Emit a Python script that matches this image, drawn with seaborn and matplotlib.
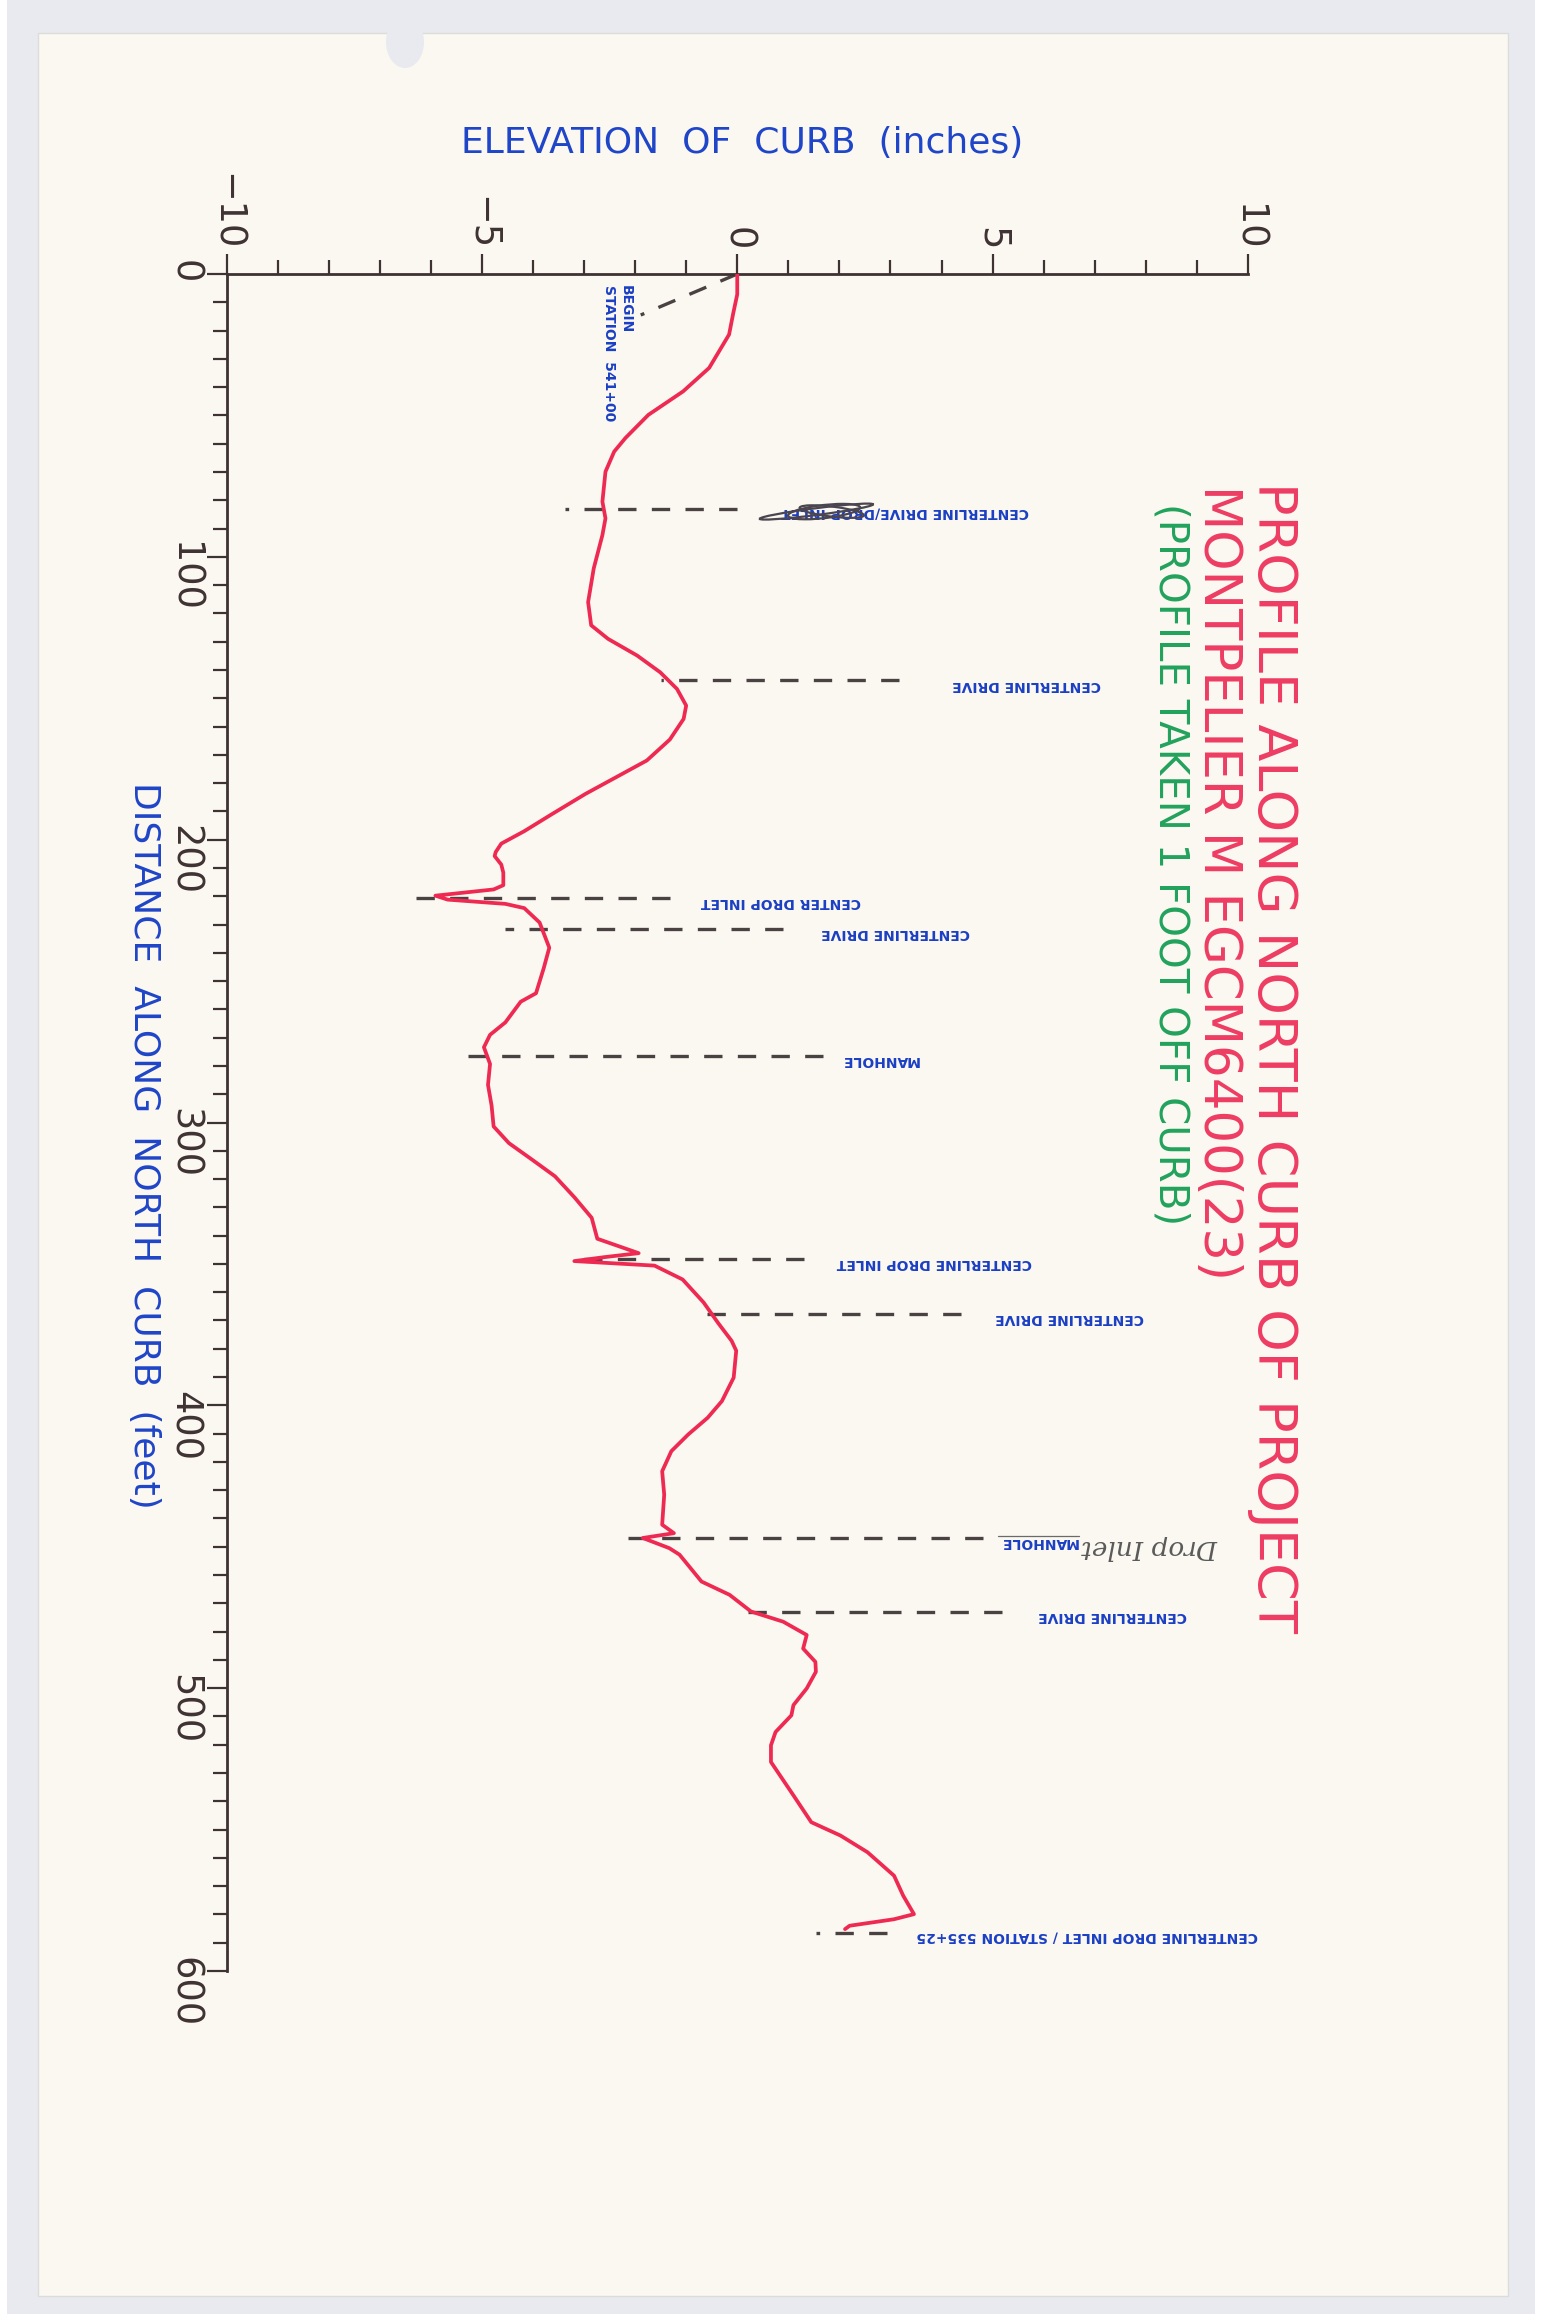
import numpy as np
import matplotlib
matplotlib.use('Agg')
import matplotlib.pyplot as plt
from matplotlib.patches import Rectangle, Ellipse
import seaborn as sns

sns.set_style('white')
plt.rcParams['font.family'] = ['DejaVu Sans']

# profile trace: distance along curb (feet) and elevation of curb (inches)
distance = [0, 7.2, 14, 21.4, 33.2, 41.5, 49.8, 58.0, 62.8, 69.9, 80.5, 86.4, 92.3,
            104.1, 116.0, 124.2, 129.0, 134.9, 140.8, 146.7, 152.6, 157.3, 164.6,
            172.0, 177.9, 183.8, 191.1, 197.0, 201.4, 204.4, 205.8, 208.8, 211.7,
            216.1, 217.6, 219.8, 221.2, 222.7, 224.2, 229.3, 238.2, 245.5, 254.3,
            257.3, 264.6, 269.0, 273.4, 279.3, 286.7, 294.0, 301.4, 307.3, 313.1,
            319.0, 326.4, 333.7, 341.1, 346.2, 347.6, 349.0, 350.6, 355.5, 363.6,
            371.0, 377.2, 380.7, 390.2, 398.5, 404.4, 410.3, 416.2, 423.3, 431.6,
            442.2, 445.2, 446.9, 450.5, 452.8, 462.3, 467.0, 472.9, 476.5, 481.2,
            486.0, 490.7, 494.2, 497.8, 500.1, 506.0, 509.6, 515.5, 520.2, 526.1,
            532.0, 537.9, 547.4, 552.1, 558.0, 566.3, 573.4, 579.9, 581.7, 584.0,
            585.2]
elevation = [0.0, 0.0, -0.08, -0.16, -0.55, -1.06, -1.74, -2.19, -2.41, -2.58, -2.64,
             -2.58, -2.64, -2.81, -2.92, -2.86, -2.53, -1.96, -1.51, -1.18, -1.00,
             -1.05, -1.32, -1.77, -2.37, -2.97, -3.64, -4.17, -4.62, -4.73, -4.75,
             -4.62, -4.58, -4.58, -4.77, -5.91, -5.67, -4.54, -4.17, -3.87, -3.68,
             -3.79, -3.94, -4.24, -4.54, -4.84, -4.96, -4.84, -4.88, -4.81, -4.77,
             -4.47, -4.02, -3.57, -3.19, -2.85, -2.74, -1.93, -2.60, -3.19, -1.62,
             -1.07, -0.66, -0.37, -0.11, -0.02, -0.07, -0.30, -0.58, -0.96, -1.29,
             -1.47, -1.43, -1.47, -1.24, -1.85, -1.33, -1.13, -0.70, -0.15, 0.27,
             0.90, 1.36, 1.29, 1.53, 1.54, 1.43, 1.36, 1.10, 1.06, 0.75, 0.66, 0.66,
             0.88, 1.10, 1.45, 2.02, 2.55, 3.07, 3.25, 3.46, 3.07, 2.20, 2.11]

# feature markers: station (ft), dashed line from / to (in), label start (in), label
feat_dist = [83.0, 143.7, 220.5, 231.6, 276.4, 348.3, 367.7, 446.9, 472.9, 586.4]
feat_from = [-3.37, -1.50, -6.35, -4.54, -5.33, -3.12, -0.62, -2.22, 0.17, 1.54]
feat_to = [0.0, 3.16, -1.32, 0.90, 1.68, 1.30, 4.39, 4.81, 5.18, 2.94]
feat_text_at = [0.85, 4.20, -0.72, 1.65, 2.02, 1.95, 5.04, 5.14, 5.89, 3.51]
feat_label = ['CENTERLINE DRIVE/DROP INLET', 'CENTERLINE DRIVE', 'CENTER DROP INLET',
              'CENTERLINE DRIVE', 'MANHOLE', 'CENTERLINE DROP INLET', 'CENTERLINE DRIVE',
              'MANHOLE', 'CENTERLINE DRIVE', 'CENTERLINE DROP INLET / STATION 535+25']

begin_dist = [0, 14.5]
begin_elev = [0.0, -1.89]

curve_red = '#ee2a52'
label_blue = '#1b3fc4'
dash_col = '#4a4242'
axis_col = '#3e3232'

fig = plt.figure(figsize=(15.48, 23.14), dpi=100, facecolor='white')
fig.patches.append(Rectangle((7 / 1548, 0), 1528 / 1548, 1, transform=fig.transFigure,
                             facecolor='#e8eaf0', edgecolor='none', zorder=-3))
fig.patches.append(Rectangle((38 / 1548, 1 - 2296 / 2314), 1470 / 1548, 2263 / 2314,
                             transform=fig.transFigure, facecolor='#fbf8f1',
                             edgecolor='#dcdcd8', lw=1, zorder=-2))
fig.patches.append(Ellipse((405 / 1548, 1 - 42 / 2314), 38 / 1548, 52 / 2314,
                           transform=fig.transFigure, facecolor='#e8eaf0',
                           edgecolor='none', zorder=-1))

ax = fig.add_axes([226.5 / 1548, 1 - 1971 / 2314, 1021.5 / 1548, 1697 / 2314])
ax.set_facecolor('none')

sns.lineplot(x=elevation, y=distance, sort=False, estimator=None, orient='y',
             color=curve_red, lw=2.7, ax=ax, zorder=3)

for d, e0, e1, et, lab in zip(feat_dist, feat_from, feat_to, feat_text_at, feat_label):
    ax.plot([e1, e0], [d, d], ls=(0, (5.5, 4.6)), color=dash_col, lw=2.4, zorder=2)
    ax.text(et, d + 1.5, lab, rotation=180, rotation_mode='anchor', ha='right',
            va='center', fontsize=10, fontweight='bold', color=label_blue,
            clip_on=False, zorder=4)

# pen scribble over the first label
for cx, w, h, a in [(1.7, 1.2, 5.5, 8), (1.85, 1.0, 4.5, -10), (1.55, 0.9, 6.0, 20)]:
    ax.add_patch(Ellipse((cx, feat_dist[0] + 1), w, h, angle=a, facecolor='none',
                         edgecolor='#4b4550', lw=1.6, zorder=5))

ax.plot(begin_elev, begin_dist, ls=(0, (5.5, 4.6)), color=dash_col, lw=2.4, zorder=2)
ax.text(-2.18, 3.9, 'BEGIN', rotation=-90, rotation_mode='anchor', ha='left',
        va='center', fontsize=10, fontweight='bold', color=label_blue)
ax.text(-2.52, 3.9, 'STATION  541+00', rotation=-90, rotation_mode='anchor', ha='left',
        va='center', fontsize=10, fontweight='bold', color=label_blue)

# hand note next to the second manhole
ax.plot([5.1, 6.7], [446.3, 446.3], color='#6a6a6a', lw=0.9, zorder=4)
ax.text(6.75, 446.0, 'Drop Inlet', rotation=180, rotation_mode='anchor', ha='right',
        va='bottom', fontsize=19, family='DejaVu Serif', style='italic',
        color='#5a5a5a', clip_on=False)

ax.set_xlim(-10, 10)
ax.set_ylim(600, 0)
ax.xaxis.tick_top()
ax.set_xticks([-10, -5, 0, 5, 10])
ax.set_xticks(np.arange(-10, 11, 1), minor=True)
ax.set_yticks(np.arange(0, 601, 100))
ax.set_yticks(np.arange(0, 601, 10), minor=True)
for s in ['right', 'bottom']:
    ax.spines[s].set_visible(False)
for s in ['left', 'top']:
    ax.spines[s].set_color(axis_col)
    ax.spines[s].set_linewidth(2)
ax.tick_params(which='major', direction='out', length=14.5, width=1.6, color=axis_col,
               labelsize=26.5, labelcolor=axis_col, labelrotation=-90, pad=2.5)
ax.tick_params(which='minor', direction='out', length=10, width=1.6, color=axis_col)
ax.tick_params(axis='x', which='both', top=True, bottom=False, labeltop=True,
               labelbottom=False)
ax.tick_params(axis='y', which='both', left=True, right=False)
ax.grid(False)

fig.text(742 / 1548, 1 - 143 / 2314, 'ELEVATION  OF  CURB  (inches)', ha='center',
         va='center', fontsize=26, color='#1f45c8')
fig.text(144 / 1548, 1 - 1145 / 2314, 'DISTANCE  ALONG  NORTH  CURB  (feet)',
         rotation=-90, ha='center', va='center', fontsize=26, color='#1f45c8')

fig.text(1258 / 1548, 1 - 482 / 2314, 'PROFILE ALONG NORTH CURB OF PROJECT',
         rotation=-90, rotation_mode='anchor', ha='left', va='baseline',
         fontsize=39, color='#ee3c62')
fig.text(1204 / 1548, 1 - 485 / 2314, 'MONTPELIER M EGCM6400(23)',
         rotation=-90, rotation_mode='anchor', ha='left', va='baseline',
         fontsize=37, color='#ee3c62')
fig.text(1160 / 1548, 1 - 503 / 2314, '(PROFILE TAKEN 1 FOOT OFF CURB)',
         rotation=-90, rotation_mode='anchor', ha='left', va='baseline',
         fontsize=29, color='#22a25c')

fig.savefig('out.png', dpi=100, facecolor=fig.get_facecolor())
